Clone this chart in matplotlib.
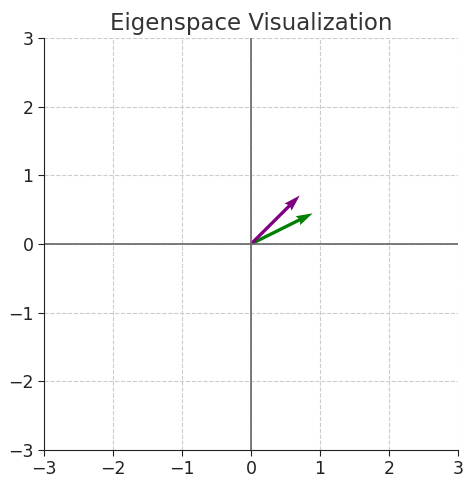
import numpy as np
import matplotlib.pyplot as plt

# eigenvectors (normalized)
vec_x = [0.894, 0.707]
vec_y = [0.447, 0.707]
cores = ['green', 'purple']

fig = plt.figure(figsize=(4.74, 4.84), dpi=100)
ax = fig.add_axes([44/474, 1 - 450/484, (458-44)/474, (450-38)/484])

ax.axhline(0, color='#666666', lw=1.2)
ax.axvline(0, color='#666666', lw=1.2)
ax.quiver([0, 0], [0, 0], vec_x, vec_y, color=cores, angles='xy',
          scale_units='xy', scale=1, width=0.008)

ax.set_xlim(-3, 3)
ax.set_ylim(-3, 3)
ax.set_xticks(range(-3, 4))
ax.set_yticks(range(-3, 4))
ax.grid(True, ls='--', color='#cccccc', lw=0.8)
ax.tick_params(labelsize=12.5, colors='#222222', length=4)
ax.spines['top'].set_visible(False)
ax.spines['right'].set_visible(False)
for s in ('left', 'bottom'):
    ax.spines[s].set_color('#222222')
ax.set_title('Eigenspace Visualization', fontsize=16.5, color='#333333')

fig.savefig('out.png', dpi=100)
